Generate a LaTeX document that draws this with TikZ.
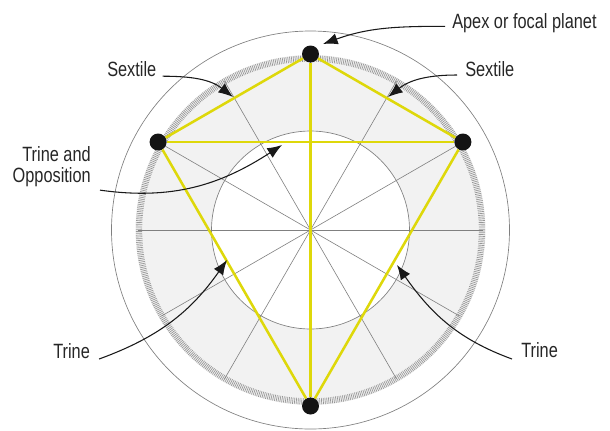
\documentclass[tikz,border=0pt]{standalone}
\usepackage{fontspec}
\setmainfont{Liberation Sans}[FakeStretch=0.79]
\usepackage{tikz}
\usetikzlibrary{arrows.meta}
\definecolor{aspyellow}{RGB}{222,216,10}
\definecolor{ringgray}{RGB}{242,242,242}
\definecolor{linegray}{RGB}{128,128,128}
\definecolor{tickgray}{RGB}{150,150,150}

\begin{document}
\begin{tikzpicture}[x=0.75pt, y=0.75pt,
    planet/.style={circle, fill=black!92, inner sep=0pt, minimum size=12.75pt},
    aspect/.style={draw=aspyellow, line width=1.9pt},
    spoke/.style={draw=linegray, line width=0.45pt},
    ring/.style={draw=linegray, line width=0.5pt},
    lbl/.style={inner sep=0pt, font=\fontsize{15.5}{16}\selectfont, text=black!85},
    pointer/.style={draw=black!90, line width=0.8pt, -{Latex[length=11pt, width=8.5pt]}}
]
\useasboundingbox (-310.5,-200) rectangle (299.5,230);

% Shaded band between inner circle and tick ring
\fill[ringgray] (0,0) circle (175);
\fill[white] (0,0) circle (99);

% Degree ticks
\draw[tickgray, line width=4.8pt, dash pattern=on 0.5pt off 0.85pt] (0,0) circle (171.5);

% Circles
\draw[ring] (0,0) circle (199);
\draw[ring] (0,0) circle (99);

% Spokes every 30 degrees
\foreach \a in {0,30,...,150}
  \draw[spoke] (\a:172) -- (\a+180:172);

% Planets
\node[planet] (apex) at (90:176) {};
\node[planet] (west) at (150:176) {};
\node[planet] (east) at (30:176) {};
\node[planet] (south) at (270:176) {};

% Aspect lines
\draw[aspect] (apex) -- (west);
\draw[aspect] (apex) -- (east);
\draw[aspect] (west) -- (east);
\draw[aspect] (west) -- (south);
\draw[aspect] (east) -- (south);
\draw[aspect] (apex) -- (south);

% Labels
\node[lbl, anchor=base west] (apexlbl) at (141.5,201.7) {Apex or focal planet};
\node[lbl, anchor=base west] (sextw) at (-203.5,153.3) {Sextile};
\node[lbl, anchor=base west] (sexte) at (154.5,153.3) {Sextile};
\node[lbl, anchor=north east, align=right] (trop) at (-219.5,84) {Trine and\\Opposition};
\node[lbl, anchor=base west] (trinew) at (-257.5,-128) {Trine};
\node[lbl, anchor=base west] (trinee) at (210.5,-127.5) {Trine};

% Arrow targets
\coordinate (apextip) at (12.5,186);
\coordinate (sextwtip) at (-77.5,133);
\coordinate (sextetip) at (77.5,133);
\coordinate (troptip) at (-28.5,85);
\coordinate (trinewtip) at (-83.5,-30);
\coordinate (trineetip) at (86.5,-35);

% Pointers
\draw[pointer] ([shift={(-7,2)}]apexlbl.base west) to[out=180, in=20] (apextip);
\draw[pointer] ([shift={(6,0.5)}]sextw.base east) to[out=0, in=142] (sextwtip);
\draw[pointer] ([shift={(-8,1.7)}]sexte.base west) to[out=180, in=38] (sextetip);
\draw[pointer] ([shift={(9,-3)}]trop.south east) to[out=-8, in=213] (troptip);
\draw[pointer] ([shift={(9,-1)}]trinew.base east) to[out=20, in=235] (trinewtip);
\draw[pointer] ([shift={(-9,-1.5)}]trinee.base west) to[out=160, in=-55] (trineetip);

\end{tikzpicture}
\end{document}
